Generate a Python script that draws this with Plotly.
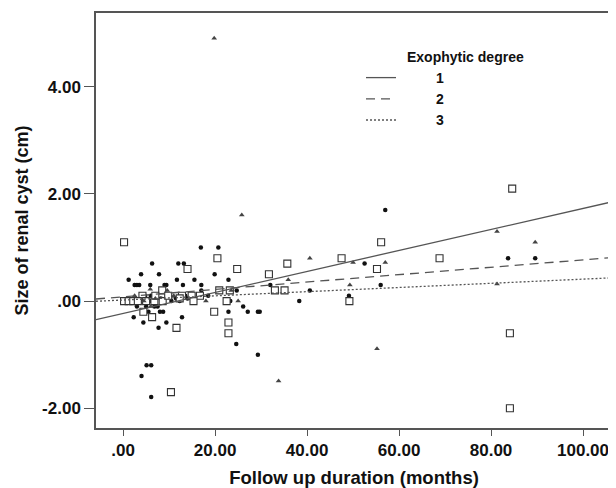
import numpy as np
import plotly.graph_objects as go

# ---- data ----
circle_x = [16.9, 20.7, 6.3, 12.0, 13.2, 3.9, 7.8, 19.9, 1.2, 11.7, 15.5, 22.9, 2.5, 3.0, 3.5, 5.9,
            9.0, 9.4, 13.0, 17.0, 32.0, 24.7, 17.0, 2.3, 4.4, 7.7, 9.4, 12.8, 8.7, 8.0, 22.9, 26.1,
            27.1, 29.3, 29.7, 24.6, 29.3, 5.1, 6.1, 4.0, 6.1, 38.3, 23.3, 40.6, 52.5, 57.0, 49.1,
            56.0, 83.7, 89.6, 24.8,
            0.5, 1.5, 2.0, 2.8, 3.4, 4.0, 4.6, 5.2, 5.8, 6.4, 7.0, 1.0, 3.0, 5.0, 6.0, 7.2, 4.8,
            5.5, 6.8, 8.2, 10.5, 11.5, 12.3, 14.0, 15.3, 18.5, 7.5, 10.0, 13.5]
circle_y = [1.0, 1.0, 0.7, 0.7, 0.7, 0.5, 0.5, 0.5, 0.4, 0.4, 0.4, 0.4, 0.3, 0.3, 0.3, 0.3,
            0.3, 0.3, 0.3, 0.3, 0.3, 0.2, 0.2, -0.3, -0.4, -0.5, -0.4, -0.3, -0.2, -0.2, -0.2, -0.1,
            -0.2, -0.2, -0.2, -0.8, -1.0, -1.2, -1.2, -1.4, -1.79, 0.0, 0.0, 0.2, 0.7, 1.7, 0.1,
            0.3, 0.8, 0.8, 0.6,
            0.0, 0.0, 0.0, 0.0, 0.0, 0.0, 0.0, 0.0, 0.0, 0.0, 0.0, 0.0, -0.1, -0.1, 0.1, 0.1, 0.1,
            -0.2, -0.1, 0.05, 0.0, 0.05, 0.0, 0.05, 0.05, 0.1, -0.1, 0.1, 0.1]

square_x = [0.2, 20.5, 14.0, 24.8, 31.7, 35.7, 33.0, 35.1, 20.9, 23.2, 19.8, 22.5, 22.9, 22.9,
            11.6, 10.4, 6.3, 4.4, 8.5, 4.2, 12.8, 14.9, 16.7, 15.3, 0.2, 1.2, 2.2, 3.2, 5.0, 6.8,
            8.6, 12.3, 47.5, 55.2, 56.1, 49.2, 68.8, 84.6, 84.1, 84.1, 9.8, 7.0]
square_y = [1.1, 0.8, 0.6, 0.6, 0.5, 0.7, 0.2, 0.2, 0.2, 0.2, -0.2, 0.0, -0.4, -0.6,
            -0.5, -1.7, -0.3, -0.2, 0.2, 0.1, 0.1, 0.1, 0.1, 0.0, 0.0, 0.0, 0.0, 0.0, 0.0, 0.0,
            0.0, 0.05, 0.8, 0.6, 1.1, 0.0, 0.8, 2.1, -0.6, -2.0, 0.1, 0.1]

triangle_x = [19.8, 25.8, 33.8, 35.9, 25.0, 18.0, 5.9, 2.5, 23.5, 40.6, 50.0, 57.0, 49.3, 55.2,
              81.3, 89.6, 81.3, 11.0, 4.5, 7.0, 6.0, 9.6]
triangle_y = [4.91, 1.61, -1.49, 0.4, 0.0, 0.0, 0.22, 0.1, 0.2, 0.8, 0.72, 0.72, 0.3, -0.89,
              1.3, 1.1, 0.32, 0.1, 0.0, 0.05, -0.1, 0.2]

degree_labels = ["1", "2", "3"]
fit_intercept = [-0.23, 0.08, 0.02]
fit_slope = [0.0196, 0.0069, 0.0039]

x_tick_vals = [0, 20, 40, 60, 80, 100]
x_tick_text = [".00", "20.00", "40.00", "60.00", "80.00", "100.00"]
y_tick_vals = [-2, 0, 2, 4]
y_tick_text = ["-2.00", ".00", "2.00", "4.00"]

X_RANGE = [-5.9, 106.3]
Y_RANGE = [-2.37, 5.38]

FONT = "Liberation Sans, Arial, sans-serif"
GRAY = "#555555"
NBSP = "\u00a0"

# page body has an 8px default margin, so the figure is 8px smaller and margins shifted
W, H = 608, 480
ML, MR, MT, MB = 88, 4, 5, 60
PW, PH = W - ML - MR, H - MT - MB


def px_x(p):  # page pixel -> paper x
    return (p - 8 - ML) / PW


def px_y(p):  # page pixel -> paper y
    return (H - MB - (p - 8)) / PH


fig = go.Figure()

fig.add_trace(go.Scatter(x=circle_x, y=circle_y, mode="markers", showlegend=False,
                         marker=dict(symbol="circle", size=4.5, color="#111111")))
fig.add_trace(go.Scatter(x=square_x, y=square_y, mode="markers", showlegend=False,
                         marker=dict(symbol="square", size=7, color="white",
                                     line=dict(color="#333333", width=1.1))))
fig.add_trace(go.Scatter(x=triangle_x, y=triangle_y, mode="markers", showlegend=False,
                         marker=dict(symbol="triangle-up", size=5, color="#444444")))

dashes = ["solid", "9px,6px", "2px,2px"]
xs = np.array(X_RANGE)
for lab, b0, b1, d in zip(degree_labels, fit_intercept, fit_slope, dashes):
    fig.add_trace(go.Scatter(x=xs, y=b0 + b1 * xs, mode="lines", name=NBSP * 9 + lab,
                             line=dict(color=GRAY, width=1.3, dash=d)))

fig.update_layout(
    width=W, height=H,
    margin=dict(l=ML, r=MR, t=MT, b=MB, autoexpand=False),
    paper_bgcolor="white", plot_bgcolor="white",
    font=dict(family=FONT, color="#111111"),
    legend=dict(x=px_x(361), y=px_y(62), xanchor="left", yanchor="top",
                bgcolor="rgba(0,0,0,0)", itemwidth=30,
                font=dict(family=FONT, size=14, color="#111111", weight="bold")),
    annotations=[dict(text="<b>Exophytic degree</b>", xref="paper", yref="paper",
                      x=px_x(465), y=px_y(57),
                      xanchor="center", yanchor="middle",
                      showarrow=False, font=dict(size=14, family=FONT, color="#111111"))],
)

fig.update_xaxes(range=X_RANGE, tickvals=x_tick_vals, ticktext=x_tick_text, automargin=False,
                 showgrid=False, zeroline=False, showline=True, mirror=True,
                 linecolor=GRAY, linewidth=1.5, ticks="outside", ticklen=6,
                 tickcolor=GRAY, tickwidth=1.3,
                 tickfont=dict(family=FONT, size=17, weight="bold", color="#111111"),
                 title=dict(text="Follow up duration (months)", standoff=12,
                            font=dict(family=FONT, size=18.5, weight="bold", color="#111111")))
fig.update_yaxes(range=Y_RANGE, tickvals=y_tick_vals, ticktext=y_tick_text, automargin=False,
                 showgrid=False, zeroline=False, showline=True, mirror=True,
                 linecolor=GRAY, linewidth=1.5, ticks="outside", ticklen=10,
                 tickcolor=GRAY, tickwidth=1.3,
                 tickfont=dict(family=FONT, size=17, weight="bold", color="#111111"),
                 title=dict(text="Size of renal cyst (cm)", standoff=9,
                            font=dict(family=FONT, size=18, weight="bold", color="#111111")))

fig.write_html("out.html")
